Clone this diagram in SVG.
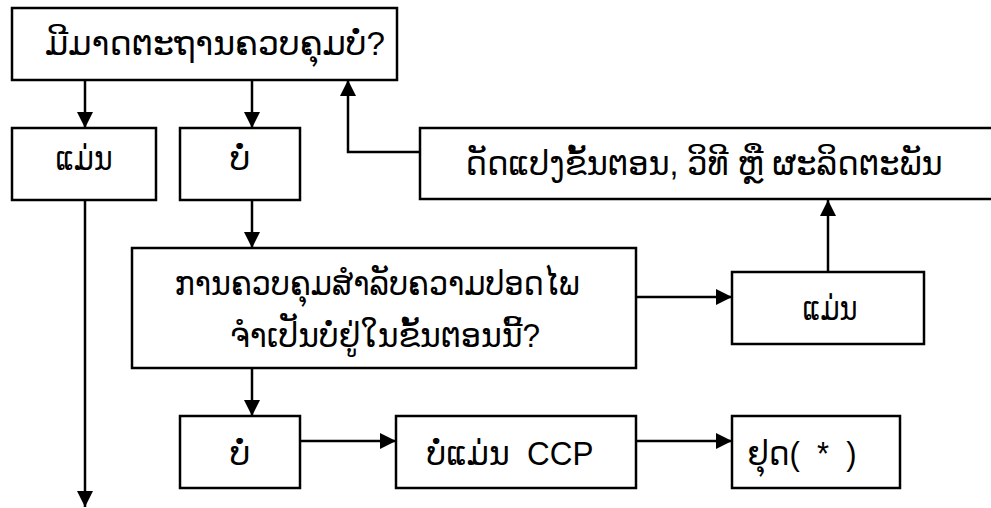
<svg xmlns="http://www.w3.org/2000/svg" width="991" height="508" viewBox="0 0 991 508">
<defs>
<style>
.box{fill:#fff;stroke:#000;stroke-width:2.5}
.t{font-family:"Liberation Sans","DejaVu Sans",sans-serif;font-size:33px;fill:#000;text-anchor:middle}
.c{fill:none;stroke:#000;stroke-width:2.5;marker-end:url(#ah)}
</style>
<marker id="ah" viewBox="0 0 16 16" refX="16" refY="8" markerWidth="16" markerHeight="16" markerUnits="userSpaceOnUse" orient="auto">
<path d="M0,0 L16,8 L0,16 z" fill="#000"/>
</marker>
</defs>
<rect width="991" height="508" fill="#fff"/>
<g id="connectors">
<path class="c" d="M85,80 V128"/>
<path class="c" d="M252,80 V128"/>
<path class="c" d="M420,152 H348 V80"/>
<path class="c" d="M252,200 V248"/>
<path class="c" d="M636,297 H732"/>
<path class="c" d="M828,272 V200"/>
<path class="c" d="M252,368 V416"/>
<path class="c" d="M300,441 H396"/>
<path class="c" d="M636,441 H732"/>
<path class="c" d="M85,200 V507"/>
</g>
<g id="q1"><rect class="box" x="12" y="8" width="385" height="72"/><text class="t" x="215" y="55" textLength="340" lengthAdjust="spacingAndGlyphs">ມີມາດຕະຖານຄວບຄຸມບໍ່?</text></g>
<g id="yes1"><rect class="box" x="12" y="128" width="144" height="72"/><text class="t" x="84" y="170" textLength="57" lengthAdjust="spacingAndGlyphs">ແມ່ນ</text></g>
<g id="no1"><rect class="box" x="180" y="128" width="120" height="72"/><text class="t" x="240" y="170">ບໍ່</text></g>
<g id="modify"><rect class="box" x="420" y="128" width="580" height="71"/><text class="t" x="704" y="175" textLength="477" lengthAdjust="spacingAndGlyphs">ດັດແປງຂັ້ນຕອນ, ວິທີ ຫຼື ຜະລິດຕະພັນ</text></g>
<g id="q2"><rect class="box" x="132" y="248" width="504" height="120"/><text class="t" x="377" y="295" textLength="405" lengthAdjust="spacingAndGlyphs">ການຄວບຄຸມສໍາລັບຄວາມປອດໄພ</text><text class="t" x="385" y="347" textLength="310" lengthAdjust="spacingAndGlyphs">ຈໍາເປັນບໍ່ຢູ່ໃນຂັ້ນຕອນນີ້?</text></g>
<g id="yes2"><rect class="box" x="732" y="272" width="192" height="72"/><text class="t" x="830" y="320" textLength="55" lengthAdjust="spacingAndGlyphs">ແມ່ນ</text></g>
<g id="no2"><rect class="box" x="180" y="416" width="120" height="72"/><text class="t" x="240" y="465">ບໍ່</text></g>
<g id="notccp"><rect class="box" x="396" y="416" width="240" height="72"/><text class="t" x="510" y="465" textLength="167" lengthAdjust="spacingAndGlyphs" xml:space="preserve">ບໍ່ແມ່ນ  CCP</text></g>
<g id="stop"><rect class="box" x="732" y="416" width="168" height="72"/><text class="t" x="802" y="465" textLength="109" lengthAdjust="spacingAndGlyphs" xml:space="preserve">ຢຸດ(  *  )</text></g>
</svg>
